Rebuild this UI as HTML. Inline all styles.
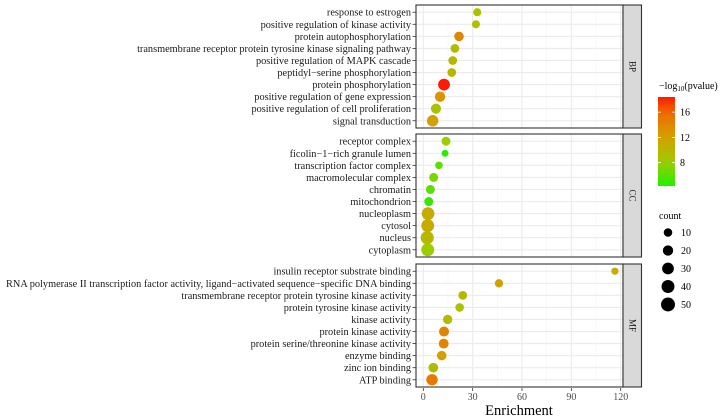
<!DOCTYPE html>
<html><head><meta charset="utf-8"><style>
html,body{margin:0;padding:0;background:#fff;}
svg{display:block;font-family:"Liberation Serif",serif;}
</style></head><body>
<svg id="chart" width="721" height="419" viewBox="0 0 721 419" xmlns="http://www.w3.org/2000/svg"></svg>
<script>
const panels=["BP","CC","MF"];
const bpTerms=["response to estrogen","positive regulation of kinase activity","protein autophosphorylation","transmembrane receptor protein tyrosine kinase signaling pathway","positive regulation of MAPK cascade","peptidyl\u2212serine phosphorylation","protein phosphorylation","positive regulation of gene expression","positive regulation of cell proliferation","signal transduction"];
const bpEnrich=[32.8,32,21.7,19.2,17.9,17.3,12.6,10.2,7.7,5.7];
const bpLogP=[9,9,14,9.5,10,10,18.4,13,9,12];
const bpCount=[8,8,15,11,11,11,30,20,18,28];
const ccTerms=["receptor complex","ficolin\u22121\u2212rich granule lumen","transcription factor complex","macromolecular complex","chromatin","mitochondrion","nucleoplasm","cytosol","nucleus","cytoplasm"];
const ccEnrich=[13.8,13.2,9.5,6.3,4.3,3.3,2.9,2.7,2.4,2.7];
const ccLogP=[8,4.5,6,7,6,5,11,11,10,8];
const ccCount=[12,4,6,12,12,12,38,40,42,40];
const mfTerms=["insulin receptor substrate binding","RNA polymerase II transcription factor activity, ligand\u2212activated sequence\u2212specific DNA binding","transmembrane receptor protein tyrosine kinase activity","protein tyrosine kinase activity","kinase activity","protein kinase activity","protein serine/threonine kinase activity","enzyme binding","zinc ion binding","ATP binding"];
const mfEnrich=[116.5,46,24,22.1,14.8,12.6,12.4,11.2,6.1,5.3];
const mfLogP=[11,12,10,9,9.5,14,14,12,9.5,15];
const mfCount=[5,9,11,10,14,18,17,15,16,27];
const xTicks=[0,30,60,90,120];
const colorTicks=[8,12,16];
const sizeTicks=[10,20,30,40,50];

const svg=document.getElementById('chart');
const NS="http://www.w3.org/2000/svg";
function mk(t,a,p){const e=document.createElementNS(NS,t);for(const k in a)e.setAttribute(k,a[k]);(p||svg).appendChild(e);return e;}
const X0=416,X1=623;
function xs(v){return 423.3+(v)*(620.7-423.3)/120;}
const tops=[5,134,264],PH=123;
function ys(pi,i){const step=PH/10.2;return tops[pi]+step*0.6+i*step;}
const stops=[[4.3,[32,240,0]],[8,[156,205,0]],[12,[212,160,0]],[16,[238,106,0]],[18.4,[255,26,0]]];
function col(v){v=Math.max(4.3,Math.min(18.4,v));for(let i=0;i<stops.length-1;i++){const a=stops[i],b=stops[i+1];if(v<=b[0]){const t=(v-a[0])/(b[0]-a[0]);const c=a[1].map((x,k)=>Math.round(x+(b[1][k]-x)*t));return `rgb(${c})`;}}return 'rgb(255,26,0)';}
function rs(n){return 2.1+0.69*Math.sqrt(n);}
const data=[[bpTerms,bpEnrich,bpLogP,bpCount],[ccTerms,ccEnrich,ccLogP,ccCount],[mfTerms,mfEnrich,mfLogP,mfCount]];
data.forEach((d,pi)=>{
  const g=mk('g',{});
  
  
  mk('rect',{x:X0,y:tops[pi],width:X1-X0,height:PH,fill:'#fff'},g);
  [15,45,75,105].forEach(v=>mk('line',{x1:xs(v),x2:xs(v),y1:tops[pi],y2:tops[pi]+PH,stroke:'#f4f4f4','stroke-width':0.6},g));
  xTicks.forEach(v=>mk('line',{x1:xs(v),x2:xs(v),y1:tops[pi],y2:tops[pi]+PH,stroke:'#ebebeb','stroke-width':1.1},g));
  d[0].forEach((t,i)=>{
    const y=ys(pi,i);
    mk('line',{x1:X0,x2:X1,y1:y,y2:y,stroke:'#ebebeb','stroke-width':1.1},g);
    const tx=mk('text',{x:411,y:y+3.5,'text-anchor':'end','font-size':10.3,fill:'#1a1a1a'},g);
    tx.textContent=t;
    
    
    mk('line',{x1:412.5,x2:X0,y1:y,y2:y,stroke:'#333','stroke-width':0.8},g);
  });
  d[0].forEach((t,i)=>{
    const c=mk('circle',{cx:xs(d[1][i]),cy:ys(pi,i),r:rs(d[3][i]),fill:col(d[2][i])},g);
    
    
  });
  mk('rect',{x:X0,y:tops[pi],width:X1-X0,height:PH,fill:'none',stroke:'#333','stroke-width':1.1},g);
  const s=mk('rect',{x:X1,y:tops[pi],width:18.5,height:PH,fill:'#d9d9d9',stroke:'#333','stroke-width':1.1},g);
  
  
  const cx=X1+9.5,cy=tops[pi]+PH/2;
  const st=mk('text',{x:cx,y:cy,'text-anchor':'middle','font-size':9,fill:'#1a1a1a',transform:`rotate(90 ${cx} ${cy}) translate(0 3)`},g);
  st.textContent=panels[pi];
});
xTicks.forEach(v=>{
  mk('line',{x1:xs(v),x2:xs(v),y1:388,y2:391,stroke:'#333','stroke-width':0.8});
  const t=mk('text',{x:xs(v),y:400,'text-anchor':'middle','font-size':10,fill:'#4d4d4d'});
  t.textContent=v;
  
  
});
const xt=mk('text',{x:519,y:415,'text-anchor':'middle','font-size':14.5,fill:'#000'});
xt.textContent='Enrichment';


const lg=mk('g',{});


const lt=mk('text',{x:659,y:89,'font-size':10,fill:'#000'},lg);
lt.innerHTML='\u2212log<tspan font-size="7" dy="2">10</tspan><tspan dy="-2">(pvalue)</tspan>';
const defs=mk('defs',{});
const gr=mk('linearGradient',{id:'cg',x1:0,y1:1,x2:0,y2:0},defs);
const cTop=97,cBot=186,vTop=18.4,vBot=4.3;
function cy(v){return cBot-(v-vBot)*(cBot-cTop)/(vTop-vBot);}
for(let k=0;k<=10;k++){const v=vBot+(vTop-vBot)*k/10;mk('stop',{offset:k/10,'stop-color':col(v)},gr);}
mk('rect',{x:658,y:cTop,width:17,height:cBot-cTop,fill:'url(#cg)'},lg);
colorTicks.forEach(v=>{
  mk('line',{x1:658,x2:661,y1:cy(v),y2:cy(v),stroke:'#fff','stroke-width':0.8},lg);
  mk('line',{x1:672,x2:675,y1:cy(v),y2:cy(v),stroke:'#fff','stroke-width':0.8},lg);
  const t=mk('text',{x:680,y:cy(v)+3.5,'font-size':10,fill:'#000'},lg);t.textContent=v;
});
const sg=mk('g',{});


const stt=mk('text',{x:659,y:219,'font-size':10,fill:'#000'},sg);stt.textContent='count';
sizeTicks.forEach((v,i)=>{
  const y=232.5+i*18;
  mk('circle',{cx:668,cy:y,r:rs(v),fill:'#000'},sg);
  const t=mk('text',{x:681,y:y+3.5,'font-size':10,fill:'#000'},sg);t.textContent=v;
});
</script>
</body></html>
